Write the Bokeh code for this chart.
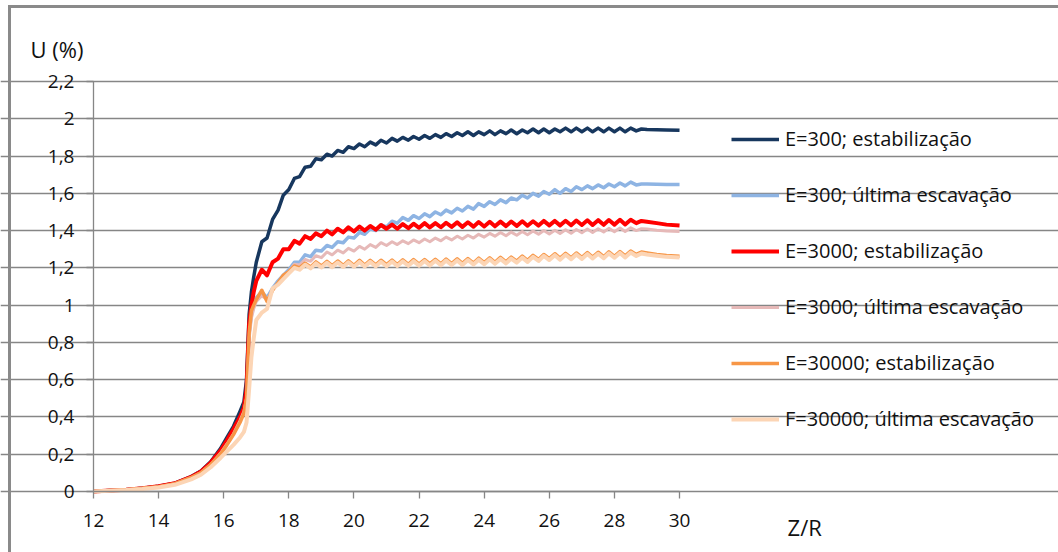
from bokeh.plotting import figure
from bokeh.models import (Range1d, FixedTicker, Legend, LegendItem, Label,
                          ColumnDataSource, InlineStyleSheet)
from bokeh.embed import file_html
from bokeh.resources import INLINE

# ---------------- data ----------------
series_names = ["E=300; estabilização", "E=300; última escavação",
                "E=3000; estabilização", "E=3000; última escavação",
                "E=30000; estabilização", "F=30000; última escavação"]
series_colors = ["#17375E", "#8EB4E3", "#FF0000", "#E6B9B8", "#F79646", "#FCD5B5"]

z_head = [12.0, 12.5, 13.0, 13.5, 14.0, 14.5, 15.0, 15.3, 15.6, 15.9, 16.1, 16.3,
          16.5, 16.62, 16.7, 16.78, 16.85, 16.92]
z_wave = [17.0, 17.17, 17.33, 17.5, 17.67, 17.83, 18.0, 18.17, 18.33, 18.5, 18.67, 18.83,
          19.0, 19.17, 19.33, 19.5, 19.67, 19.83, 20.0, 20.17, 20.33, 20.5, 20.67, 20.83,
          21.0, 21.17, 21.33, 21.5, 21.67, 21.83, 22.0, 22.17, 22.33, 22.5, 22.67, 22.83,
          23.0, 23.17, 23.33, 23.5, 23.67, 23.83, 24.0, 24.17, 24.33, 24.5, 24.67, 24.83,
          25.0, 25.17, 25.33, 25.5, 25.67, 25.83, 26.0, 26.17, 26.33, 26.5, 26.67, 26.83,
          27.0, 27.17, 27.33, 27.5, 27.67, 27.83, 28.0, 28.17, 28.33, 28.5, 28.67, 28.83]
z_tail = [29.0, 29.3, 29.6, 30.0]

u_head_e300_estab = [0.0, 0.005, 0.01, 0.018, 0.028, 0.045, 0.08, 0.11, 0.16, 0.23, 0.29, 0.35,
                     0.43, 0.48, 0.6, 0.95, 1.07, 1.15]
u_head_e300_ult = [0.0, 0.005, 0.01, 0.018, 0.027, 0.043, 0.077, 0.105, 0.15, 0.21, 0.26, 0.32,
                   0.39, 0.44, 0.52, 0.85, 0.95, 1.0]
u_head_e3000_estab = [0.0, 0.005, 0.01, 0.018, 0.028, 0.044, 0.078, 0.108, 0.155, 0.22, 0.275, 0.335,
                      0.40, 0.45, 0.55, 0.9, 1.0, 1.07]
u_head_e3000_ult = [0.0, 0.005, 0.01, 0.017, 0.026, 0.042, 0.075, 0.102, 0.145, 0.205, 0.255, 0.31,
                    0.38, 0.43, 0.5, 0.82, 0.93, 0.98]
u_head_e30000_estab = [0.0, 0.005, 0.01, 0.017, 0.026, 0.042, 0.075, 0.10, 0.145, 0.20, 0.25, 0.305,
                       0.37, 0.42, 0.5, 0.85, 0.97, 1.0]
u_head_e30000_ult = [0.0, 0.004, 0.008, 0.014, 0.022, 0.036, 0.065, 0.09, 0.13, 0.18, 0.215, 0.25,
                     0.29, 0.32, 0.37, 0.55, 0.72, 0.82]

u_wave_e300_estab = [1.23, 1.34, 1.36, 1.46, 1.51, 1.59, 1.62, 1.68, 1.69, 1.74, 1.745, 1.785,
                     1.78, 1.81, 1.80, 1.83, 1.82, 1.85, 1.84, 1.865, 1.85, 1.875, 1.86, 1.885,
                     1.87, 1.895, 1.88, 1.90, 1.885, 1.905, 1.89, 1.91, 1.895, 1.915, 1.90, 1.92,
                     1.905, 1.925, 1.91, 1.93, 1.91, 1.93, 1.915, 1.935, 1.915, 1.935, 1.92, 1.94,
                     1.92, 1.94, 1.925, 1.945, 1.925, 1.945, 1.925, 1.945, 1.93, 1.95, 1.93, 1.95,
                     1.93, 1.95, 1.93, 1.95, 1.93, 1.95, 1.93, 1.95, 1.93, 1.95, 1.935, 1.945]
u_wave_e300_ult = [1.04, 1.07, 1.04, 1.09, 1.13, 1.16, 1.19, 1.23, 1.23, 1.27, 1.26, 1.295,
                   1.29, 1.32, 1.31, 1.34, 1.335, 1.365, 1.36, 1.39, 1.38, 1.41, 1.40, 1.43,
                   1.42, 1.45, 1.44, 1.47, 1.455, 1.48, 1.465, 1.49, 1.475, 1.50, 1.485, 1.51,
                   1.495, 1.52, 1.505, 1.53, 1.515, 1.545, 1.53, 1.555, 1.54, 1.565, 1.55, 1.575,
                   1.565, 1.59, 1.575, 1.60, 1.585, 1.61, 1.595, 1.62, 1.60, 1.625, 1.61, 1.635,
                   1.62, 1.64, 1.625, 1.645, 1.63, 1.65, 1.635, 1.655, 1.64, 1.66, 1.645, 1.65]
u_wave_e3000_estab = [1.13, 1.19, 1.16, 1.23, 1.25, 1.30, 1.30, 1.345, 1.33, 1.37, 1.355, 1.385,
                      1.37, 1.40, 1.38, 1.41, 1.39, 1.418, 1.395, 1.422, 1.40, 1.425, 1.405, 1.43,
                      1.41, 1.432, 1.41, 1.435, 1.413, 1.437, 1.415, 1.44, 1.417, 1.44, 1.418, 1.442,
                      1.42, 1.444, 1.42, 1.445, 1.421, 1.446, 1.422, 1.447, 1.423, 1.448, 1.424, 1.449,
                      1.425, 1.45, 1.426, 1.45, 1.427, 1.452, 1.428, 1.452, 1.428, 1.453, 1.429, 1.454,
                      1.43, 1.455, 1.43, 1.456, 1.431, 1.457, 1.432, 1.458, 1.433, 1.458, 1.44, 1.452]
u_wave_e3000_ult = [1.02, 1.05, 1.03, 1.08, 1.12, 1.15, 1.18, 1.22, 1.215, 1.245, 1.235, 1.265,
                    1.255, 1.285, 1.27, 1.295, 1.28, 1.305, 1.29, 1.315, 1.30, 1.325, 1.31, 1.335,
                    1.32, 1.34, 1.325, 1.345, 1.33, 1.35, 1.335, 1.355, 1.34, 1.36, 1.345, 1.365,
                    1.35, 1.37, 1.355, 1.375, 1.36, 1.38, 1.365, 1.385, 1.37, 1.39, 1.372, 1.392,
                    1.375, 1.395, 1.378, 1.398, 1.38, 1.40, 1.382, 1.402, 1.384, 1.404, 1.386, 1.406,
                    1.388, 1.408, 1.39, 1.41, 1.392, 1.412, 1.394, 1.414, 1.395, 1.415, 1.40, 1.41]
u_wave_e30000_estab = [1.03, 1.08, 1.02, 1.08, 1.12, 1.16, 1.18, 1.21, 1.20, 1.225, 1.205, 1.232,
                       1.21, 1.235, 1.212, 1.237, 1.213, 1.238, 1.214, 1.24, 1.215, 1.24, 1.216, 1.241,
                       1.217, 1.242, 1.218, 1.243, 1.219, 1.244, 1.22, 1.245, 1.221, 1.246, 1.222, 1.247,
                       1.223, 1.248, 1.224, 1.25, 1.226, 1.252, 1.228, 1.254, 1.23, 1.256, 1.232, 1.258,
                       1.236, 1.263, 1.240, 1.267, 1.245, 1.272, 1.25, 1.276, 1.252, 1.278, 1.254, 1.28,
                       1.256, 1.282, 1.258, 1.284, 1.26, 1.286, 1.262, 1.288, 1.264, 1.29, 1.272, 1.285]
u_wave_e30000_ult = [0.92, 0.96, 0.98, 1.09, 1.11, 1.14, 1.17, 1.20, 1.19, 1.217, 1.197, 1.224,
                     1.202, 1.227, 1.204, 1.229, 1.205, 1.23, 1.206, 1.232, 1.207, 1.232, 1.208, 1.233,
                     1.209, 1.234, 1.21, 1.235, 1.211, 1.236, 1.212, 1.237, 1.213, 1.238, 1.214, 1.239,
                     1.215, 1.24, 1.216, 1.242, 1.218, 1.244, 1.22, 1.246, 1.222, 1.248, 1.224, 1.25,
                     1.228, 1.255, 1.232, 1.259, 1.237, 1.264, 1.242, 1.268, 1.244, 1.27, 1.246, 1.272,
                     1.248, 1.274, 1.25, 1.276, 1.252, 1.278, 1.254, 1.28, 1.256, 1.282, 1.264, 1.277]

u_tail_e300_estab = [1.942, 1.941, 1.94, 1.938]
u_tail_e300_ult = [1.65, 1.648, 1.647, 1.647]
u_tail_e3000_estab = [1.448, 1.44, 1.432, 1.427]
u_tail_e3000_ult = [1.408, 1.402, 1.398, 1.395]
u_tail_e30000_estab = [1.28, 1.272, 1.266, 1.262]
u_tail_e30000_ult = [1.272, 1.265, 1.259, 1.255]

y_ticks = [0, 0.2, 0.4, 0.6, 0.8, 1.0, 1.2, 1.4, 1.6, 1.8, 2.0, 2.2]
y_tick_labels = ["0", "0,2", "0,4", "0,6", "0,8", "1", "1,2", "1,4", "1,6", "1,8", "2", "2,2"]
x_ticks = [12, 14, 16, 18, 20, 22, 24, 26, 28, 30]

heads = [u_head_e300_estab, u_head_e300_ult, u_head_e3000_estab, u_head_e3000_ult,
         u_head_e30000_estab, u_head_e30000_ult]
waves = [u_wave_e300_estab, u_wave_e300_ult, u_wave_e3000_estab, u_wave_e3000_ult,
         u_wave_e30000_estab, u_wave_e30000_ult]
tails = [u_tail_e300_estab, u_tail_e300_ult, u_tail_e3000_estab, u_tail_e3000_ult,
         u_tail_e30000_estab, u_tail_e30000_ult]
widths = [3.5, 3.5, 4, 3, 3.5, 4]

FONT = "Open Sans"
GRID = "#868686"
TXT = "#111111"

# The frame spans the whole canvas; both axes are fixed at Z/R = 12 and U = 0
# and bounded, with grid lines bounded to the data extent.
p = figure(width=1058, height=552, output_backend="svg", toolbar_location=None,
           x_range=Range1d(9.1434, 41.64), y_range=Range1d(-0.3273, 2.6346),
           min_border_left=0, min_border_right=0, min_border_top=0, min_border_bottom=0)
p.outline_line_color = None
p.background_fill_color = "white"
p.border_fill_color = "white"

p.xgrid.grid_line_color = None
p.ygrid.grid_line_color = GRID
p.ygrid.grid_line_width = 1.3
p.ygrid.ticker = FixedTicker(ticks=y_ticks)
p.ygrid.bounds = (12, 30)

p.yaxis.ticker = FixedTicker(ticks=y_ticks)
p.yaxis.major_label_overrides = {t: l for t, l in zip(y_ticks, y_tick_labels)}
p.yaxis.bounds = (0, 2.2)
p.yaxis.fixed_location = 12
p.xaxis.ticker = FixedTicker(ticks=x_ticks)
p.xaxis.bounds = (12, 30)
p.xaxis.fixed_location = 0
for ax in (p.xaxis, p.yaxis):
    ax.axis_line_color = GRID
    ax.axis_line_width = 1.3
    ax.major_tick_line_color = GRID
    ax.major_tick_line_width = 1.3
    ax.major_tick_in = 0
    ax.major_tick_out = 7
    ax.minor_tick_line_color = None
    ax.major_label_text_font = FONT
    ax.major_label_text_font_size = "19px"
    ax.major_label_text_color = TXT
p.yaxis.major_label_standoff = 12
p.xaxis.major_label_standoff = 15

items = []
for name, col, h, w, t, lw in zip(series_names, series_colors, heads, waves, tails, widths):
    src = ColumnDataSource(dict(z=z_head + z_wave + z_tail, u=h + w + t))
    r = p.line("z", "u", source=src, line_color=col, line_width=lw, line_join="round")
    items.append(LegendItem(label=name, renderers=[r]))

legend = Legend(items=items, location=(731, 120), orientation="vertical",
                glyph_width=48, glyph_height=20, label_height=20, spacing=29,
                label_standoff=6, padding=0, margin=0,
                border_line_alpha=0, background_fill_alpha=0,
                label_text_font=FONT, label_text_font_size="20px", label_text_color=TXT)
p.add_layout(legend, "center")

p.add_layout(Label(x=10.065, y=2.372, text="U (%)", text_font=FONT, text_font_size="22px",
                   text_color=TXT, text_baseline="alphabetic"))
p.add_layout(Label(x=33.32, y=-0.188, text="Z/R", text_font=FONT, text_font_size="22px",
                   text_color=TXT, text_baseline="alphabetic"))

p.stylesheets = [InlineStyleSheet(css=":host { position: relative; } "
                                      ":host::after { content: ''; position: absolute; "
                                      "left: 8px; top: 5px; right: 0; bottom: 0; "
                                      "border-left: 3px solid #8A8A8A; border-top: 3px solid #8A8A8A; "
                                      "pointer-events: none; }")]

open("out.html", "w").write(file_html(p, INLINE))
